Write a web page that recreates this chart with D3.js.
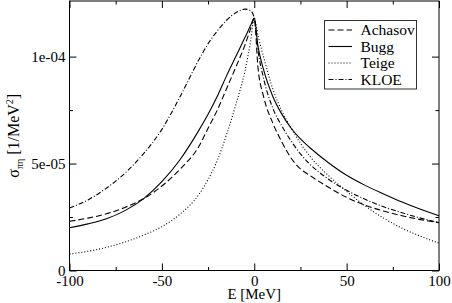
<!DOCTYPE html>
<html lang="en">
<head>
<meta charset="utf-8" />
<title>pi-eta cross section</title>
<script src="https://d3js.org/d3.v7.min.js"></script>
<style>
  body{margin:0;background:#fff;}
  svg{display:block;font-family:"Liberation Serif","Times New Roman",serif;}
  .tick line{stroke:#000;}
</style>
</head>
<body>
<svg id="chart" width="452" height="303"></svg>
<script>
// -------- DATA (sigma in units of 1e-5 MeV^-2) --------
const energy  = [-100,-90,-80,-70,-60,-50,-40,-30,-25,-20,-15,-10,-5,-2,0,2,5,10,15,20,25,30,40,50,60,70,80,90,100];
const achasov = [2.3,2.45,2.65,2.95,3.35,3.95,4.75,5.8,6.65,7.5,8.5,9.5,10.55,11.3,11.8,9.5,8.15,6.9,6.0,5.25,4.75,4.45,3.9,3.42,3.05,2.78,2.56,2.38,2.24];
const bugg    = [2.0,2.18,2.42,2.8,3.35,4.15,5.2,6.55,7.3,8.15,9.1,10.0,10.9,11.45,11.8,10.5,9.4,8.15,7.3,6.65,6.15,5.75,5.05,4.45,3.98,3.58,3.2,2.86,2.56];
const teige   = [0.77,0.9,1.08,1.33,1.65,2.05,2.65,3.55,4.25,5.15,6.35,7.75,9.35,10.7,11.8,11.0,10.0,8.5,7.45,6.65,5.95,5.35,4.45,3.7,3.02,2.45,1.98,1.6,1.28];
const kloe    = [2.92,3.3,3.85,4.55,5.45,6.6,8.15,9.85,10.6,11.2,11.7,12.05,12.22,12.15,11.8,10.3,9.0,7.6,6.75,6.05,5.45,4.98,4.28,3.75,3.33,2.98,2.7,2.45,2.24];

const SERIES = [
  {name:'Achasov', values:achasov, dash:'6,3'},
  {name:'Bugg',    values:bugg,    dash:null},
  {name:'Teige',   values:teige,   dash:'1,2'},
  {name:'KLOE',    values:kloe,    dash:'5,2,1,2'}
];

const xMajor = [-100,-50,0,50,100];
const xMinor = [-75,-25,25,75];
const yMajor = [0,5e-5,1e-4];
const yMinor = [2.5e-5,7.5e-5];
const yLabels = ['0','5e-05','1e-04'];

const SERIF='"Liberation Serif","Times New Roman",serif';

// -------- SCALES --------
const L=69.5, R=439, T=1, B=270.5;
const x=d3.scaleLinear().domain([-100,100]).range([L,R]);
const y=d3.scaleLinear().domain([0,1.26e-4]).range([B,T]);
const svg=d3.select('#chart');

// -------- AXES (ticks inside, grace style) --------
function addAxis(axis,tr,vals,size,fmt,pad){
  const g=svg.append('g').attr('transform',tr)
    .call(axis.tickValues(vals).tickSize(-size).tickPadding(pad||4).tickFormat(fmt||(()=>'')));
  g.select('.domain').remove();
  g.attr('font-family',null).attr('font-size',null);
  g.selectAll('text').style('font-family',SERIF).style('font-size','15px').attr('fill','#000');
  return g;
}
addAxis(d3.axisBottom(x),`translate(0,${B})`,xMajor,7,d=>String(d),5);
addAxis(d3.axisBottom(x),`translate(0,${B})`,xMinor,3.5);
addAxis(d3.axisTop(x),`translate(0,${T})`,xMajor,7);
addAxis(d3.axisTop(x),`translate(0,${T})`,xMinor,3.5);
addAxis(d3.axisLeft(y),`translate(${L},0)`,yMajor,7,(d,i)=>yLabels[i],4);
addAxis(d3.axisLeft(y),`translate(${L},0)`,yMinor,3.5);
addAxis(d3.axisRight(y),`translate(${R},0)`,yMajor,7);
addAxis(d3.axisRight(y),`translate(${R},0)`,yMinor,3.5);

// frame
svg.append('rect').attr('x',L).attr('y',T).attr('width',R-L).attr('height',B-T)
  .attr('fill','none').attr('stroke','#000').attr('stroke-width',1);

// -------- CURVES --------
const line=d3.line().x(d=>x(d[0])).y(d=>y(d[1]*1e-5)).curve(d3.curveMonotoneX);
SERIES.forEach(s=>{
  svg.append('path').datum(energy.map((e,i)=>[e,s.values[i]]))
    .attr('fill','none').attr('stroke','#000').attr('stroke-width',1.1)
    .attr('stroke-dasharray',s.dash).attr('d',line);
});

// -------- LABELS --------
svg.append('text').attr('x',(L+R)/2).attr('y',299).attr('text-anchor','middle')
  .style('font-size','15px').text('E [MeV]');

const yl=svg.append('text').attr('transform',`translate(19,${(T+B)/2}) rotate(-90)`)
  .attr('text-anchor','middle').style('font-size','16px');
yl.append('tspan').text('σ');
yl.append('tspan').attr('dy',4).style('font-size','10px').text('πη');
yl.append('tspan').attr('dy',-4).text(' [1/MeV');
yl.append('tspan').attr('dy',-6).style('font-size','10px').text('2');
yl.append('tspan').attr('dy',6).text(']');

// -------- LEGEND --------
const lg=svg.append('g');
lg.append('rect').attr('x',324.5).attr('y',20.5).attr('width',92).attr('height',68.5)
  .attr('fill','#fff').attr('stroke','#333').attr('stroke-width',1);
SERIES.forEach((s,i)=>{
  const yy=30+i*16.5;
  lg.append('line').attr('x1',328.5).attr('x2',352).attr('y1',yy).attr('y2',yy)
    .attr('stroke','#000').attr('stroke-width',1.1).attr('stroke-dasharray',s.dash);
  lg.append('text').attr('x',360.5).attr('y',yy+5).style('font-size','15.5px').text(s.name);
});
</script>
</body>
</html>
